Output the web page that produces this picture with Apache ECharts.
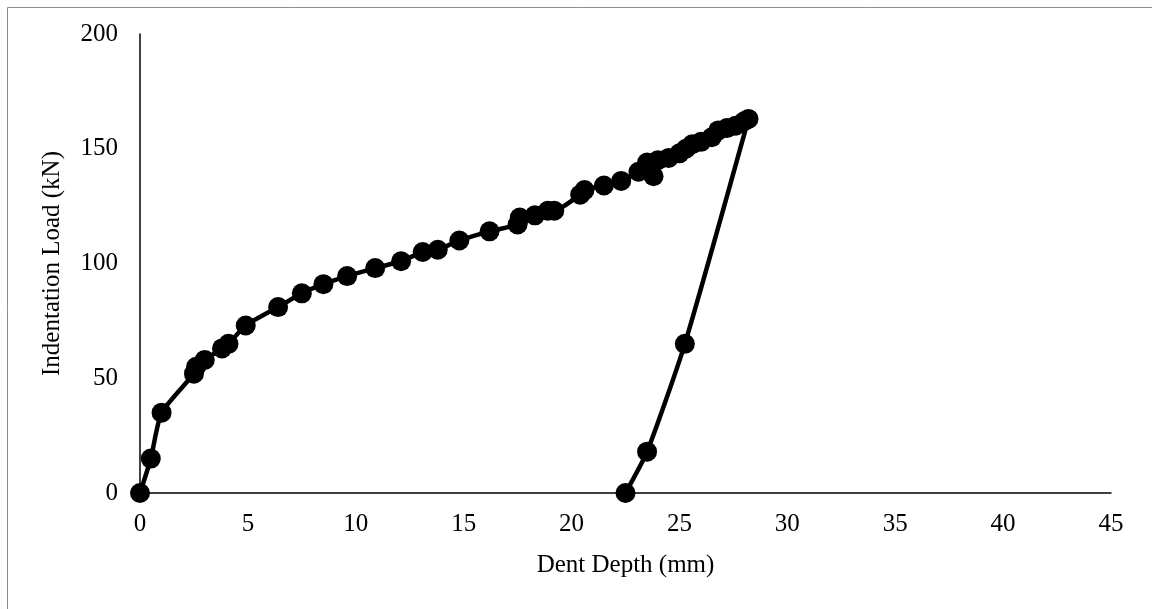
<!DOCTYPE html>
<html>
<head>
<meta charset="utf-8">
<script src="https://cdn.jsdelivr.net/npm/echarts@6/dist/echarts.min.js"></script>
<style>
html,body{margin:0;padding:0;background:#fff;}
#chart{width:1152px;height:609px;}
</style>
</head>
<body>
<div id="chart"></div>
<script>
// Dent depth (mm) and indentation load (kN), loading then unloading
const dentDepth = [0, 0.5, 1.0, 2.5, 2.6, 3.0, 3.8, 4.1, 4.9, 6.4, 7.5, 8.5, 9.6, 10.9, 12.1, 13.1, 13.8, 14.8, 16.2, 17.5, 17.6, 18.3, 18.9, 19.2, 20.4, 20.6, 21.5, 22.3, 23.1, 23.5, 23.8, 24.0, 24.5, 25.0, 25.3, 25.6, 26.0, 26.5, 26.8, 27.2, 27.6, 28.0, 28.2, 25.25, 23.5, 22.5];
const indentLoad = [0, 15, 35, 52, 55, 58, 63, 65, 73, 81, 87, 91, 94.5, 98, 101, 105, 106, 110, 114, 117, 120, 121, 123, 123, 130, 132, 134, 136, 140, 144, 138, 145, 146, 148, 150, 152, 153, 155, 158, 159, 160, 162, 163, 65, 18, 0];
const xTicks = [0, 5, 10, 15, 20, 25, 30, 35, 40, 45];
const yTicks = [0, 50, 100, 150, 200];

const points = dentDepth.map((d, i) => [d, indentLoad[i]]);
const font = 'Liberation Serif, Times New Roman, serif';

const chart = echarts.init(document.getElementById('chart'), null, {renderer: 'canvas'});
chart.setOption({
  backgroundColor: '#fff',
  animation: false,
  graphic: [{
    type: 'rect', left: 5, top: 5, silent: true,
    shape: {x: 0, y: 0, width: 1300, height: 800},
    style: {fill: 'none', stroke: '#8c8c8c', lineWidth: 1}
  }],
  grid: {left: 140, top: 34, right: 41, bottom: 116, containLabel: false},
  xAxis: {
    type: 'value', min: xTicks[0], max: xTicks[xTicks.length - 1], interval: 5,
    name: 'Dent Depth (mm)', nameLocation: 'middle', nameGap: 60,
    nameTextStyle: {fontFamily: font, fontSize: 25, color: '#000'},
    axisLine: {show: true, onZero: false, lineStyle: {color: '#000', width: 1.5}},
    axisTick: {show: false},
    splitLine: {show: false},
    axisLabel: {fontFamily: font, fontSize: 25, color: '#000', margin: 19}
  },
  yAxis: {
    type: 'value', min: yTicks[0], max: yTicks[yTicks.length - 1], interval: 50,
    name: 'Indentation Load (kN)', nameLocation: 'middle', nameGap: 75, nameRotate: 90,
    nameTextStyle: {fontFamily: font, fontSize: 25, color: '#000'},
    axisLine: {show: true, lineStyle: {color: '#000', width: 1.5}},
    axisTick: {show: false},
    splitLine: {show: false},
    axisLabel: {fontFamily: font, fontSize: 25, color: '#000', margin: 22}
  },
  series: [{
    type: 'line',
    data: points,
    smooth: 0.2,
    symbol: 'circle',
    symbolSize: 20,
    showAllSymbol: true,
    lineStyle: {color: '#000', width: 4.5},
    itemStyle: {color: '#000'},
    clip: false
  }]
});
</script>
</body>
</html>
